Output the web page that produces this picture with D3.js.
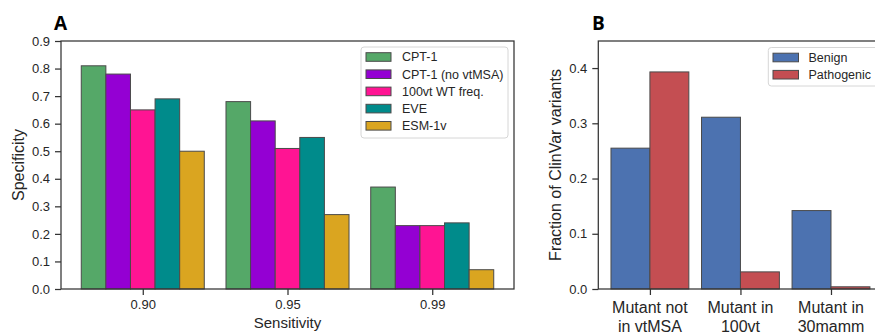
<!DOCTYPE html>
<html><head><meta charset="utf-8">
<script src="https://cdn.jsdelivr.net/npm/d3@7"></script>
<style>
body{margin:0;background:#fff;}
svg{display:block;font-family:"Liberation Sans",Arial,sans-serif;}
</style></head>
<body>
<svg id="c" width="875" height="333"></svg>
<script>
// ---- Panel A data ----
const sensitivities = ["0.90", "0.95", "0.99"];
const methods = ["CPT-1", "CPT-1 (no vtMSA)", "100vt WT freq.", "EVE", "ESM-1v"];
const methodColors = ["#55A868", "#9400D3", "#FF1493", "#008B8B", "#DAA520"];
const cpt1 = [0.81, 0.68, 0.37];
const cpt1NoMsa = [0.78, 0.61, 0.23];
const wtFreq100vt = [0.65, 0.51, 0.23];
const eve = [0.69, 0.55, 0.24];
const esm1v = [0.50, 0.27, 0.07];
const specTicks = [0, 0.1, 0.2, 0.3, 0.4, 0.5, 0.6, 0.7, 0.8, 0.9];

// ---- Panel B data ----
const variantGroups = [["Mutant not", "in vtMSA"], ["Mutant in", "100vt"], ["Mutant in", "30mamm"]];
const classes = ["Benign", "Pathogenic"];
const classColors = ["#4C72B0", "#C44E52"];
const benign = [0.255, 0.311, 0.142];
const pathogenic = [0.393, 0.031, 0.004];
const fracTicks = [0, 0.1, 0.2, 0.3, 0.4];

const svg = d3.select("#c");
const textCol = "#262626";
const spineCol = "#333333";

// ===== Panel A =====
const A = {l: 61, r: 514, t: 41, b: 289};
const seriesA = [cpt1, cpt1NoMsa, wtFreq100vt, eve, esm1v];
const xA = d3.scaleLinear().domain([-0.565, 2.565]).range([A.l, A.r]);
const yA = d3.scaleLinear().domain([0, 0.9]).range([A.b, A.t]);
const bwA = 0.17;
const gA = svg.append("g");
seriesA.forEach((vals, si) => {
  gA.selectAll(null).data(vals).enter().append("rect")
    .attr("x", (d, i) => xA(i - 2.5 * bwA + si * bwA))
    .attr("width", xA(bwA) - xA(0))
    .attr("y", d => yA(d))
    .attr("height", d => yA(0) - yA(d))
    .attr("fill", methodColors[si])
    .attr("stroke", "#4a4a4a").attr("stroke-width", 1);
});
// axes
const axA_y = svg.append("g").attr("transform", `translate(${A.l},0)`)
  .call(d3.axisLeft(yA).tickValues(specTicks).tickFormat(d3.format(".1f")).tickSize(6).tickPadding(5));
const axA_x = svg.append("g").attr("transform", `translate(0,${A.b})`)
  .call(d3.axisBottom(xA).tickValues([0, 1, 2]).tickFormat(i => sensitivities[i]).tickSize(6).tickPadding(5));
[axA_y, axA_x].forEach(a => {
  a.select(".domain").remove();
  a.selectAll("line").attr("stroke", spineCol).attr("stroke-width", 1.25);
  a.selectAll("text").attr("fill", textCol).style("font-size", "13px").style("font-family", '"Liberation Sans",Arial,sans-serif');
});
svg.append("rect").attr("x", A.l).attr("y", A.t).attr("width", A.r - A.l).attr("height", A.b - A.t)
  .attr("fill", "none").attr("stroke", spineCol).attr("stroke-width", 1.25);
svg.append("text").attr("x", (A.l + A.r) / 2).attr("y", 327.5).attr("text-anchor", "middle")
  .attr("fill", textCol).style("font-size", "15px").text("Sensitivity");
svg.append("text").attr("transform", `translate(23.5,${(A.t + A.b) / 2}) rotate(-90)`).attr("text-anchor", "middle")
  .attr("fill", textCol).style("font-size", "16px").text("Specificity");
svg.append("text").attr("x", 54).attr("y", 30).style("font-family", '"Open Sans",Arial,sans-serif')
  .style("font-weight", "bold").style("font-size", "19px").attr("fill", "#000").text("A");
// legend A
const legA = svg.append("g");
legA.append("rect").attr("x", 361).attr("y", 47).attr("width", 147).attr("height", 91).attr("rx", 3)
  .attr("fill", "#fff").attr("fill-opacity", 0.8).attr("stroke", "#d6d6d6");
methods.forEach((m, i) => {
  const cy = 57 + i * 17.2;
  legA.append("rect").attr("x", 366).attr("y", cy - 4.3).attr("width", 25).attr("height", 8.6)
    .attr("fill", methodColors[i]).attr("stroke", "#4a4a4a").attr("stroke-width", 1);
  legA.append("text").attr("x", 402).attr("y", cy + 4.3).attr("fill", textCol).style("font-size", "12.5px").text(m);
});

// ===== Panel B =====
const B = {l: 598.3, r: 882.6, t: 41, b: 289};
const seriesB = [benign, pathogenic];
const xB = d3.scaleLinear().domain([-0.57, 2.57]).range([B.l, B.r]);
const yB = d3.scaleLinear().domain([0, 0.449]).range([B.b, B.t]);
const bwB = 0.43;
seriesB.forEach((vals, si) => {
  svg.selectAll(null).data(vals).enter().append("rect")
    .attr("x", (d, i) => xB(i - bwB + si * bwB))
    .attr("width", xB(bwB) - xB(0))
    .attr("y", d => yB(d))
    .attr("height", d => yB(0) - yB(d))
    .attr("fill", classColors[si])
    .attr("stroke", "#4a4a4a").attr("stroke-width", 1);
});
const axB_y = svg.append("g").attr("transform", `translate(${B.l},0)`)
  .call(d3.axisLeft(yB).tickValues(fracTicks).tickFormat(d3.format(".1f")).tickSize(6).tickPadding(5));
const axB_x = svg.append("g").attr("transform", `translate(0,${B.b})`)
  .call(d3.axisBottom(xB).tickValues([0, 1, 2]).tickFormat("").tickSize(6));
[axB_y, axB_x].forEach(a => {
  a.select(".domain").remove();
  a.selectAll("line").attr("stroke", spineCol).attr("stroke-width", 1.25);
  a.selectAll("text").attr("fill", textCol).style("font-size", "13px").style("font-family", '"Liberation Sans",Arial,sans-serif');
});
variantGroups.forEach((lines, i) => {
  const t = svg.append("text").attr("text-anchor", "middle").attr("fill", textCol).style("font-size", "16px");
  lines.forEach((ln, j) => t.append("tspan").attr("x", xB(i)).attr("y", 313 + j * 18.5).text(ln));
});
svg.append("rect").attr("x", B.l).attr("y", B.t).attr("width", B.r - B.l).attr("height", B.b - B.t)
  .attr("fill", "none").attr("stroke", spineCol).attr("stroke-width", 1.25);
svg.append("text").attr("transform", `translate(560.5,${(B.t + B.b) / 2}) rotate(-90)`).attr("text-anchor", "middle")
  .attr("fill", textCol).style("font-size", "16px").text("Fraction of ClinVar variants");
svg.append("text").attr("x", 592).attr("y", 30).style("font-family", '"Open Sans",Arial,sans-serif')
  .style("font-weight", "bold").style("font-size", "19px").attr("fill", "#000").text("B");
// legend B
const legB = svg.append("g");
legB.append("rect").attr("x", 768.3).attr("y", 47.5).attr("width", 112).attr("height", 38.5).attr("rx", 3)
  .attr("fill", "#fff").attr("fill-opacity", 0.8).attr("stroke", "#d6d6d6");
classes.forEach((c, i) => {
  const cy = 57.5 + i * 17.2;
  legB.append("rect").attr("x", 773).attr("y", cy - 4.3).attr("width", 25.5).attr("height", 8.6)
    .attr("fill", classColors[i]).attr("stroke", "#4a4a4a").attr("stroke-width", 1);
  legB.append("text").attr("x", 808.5).attr("y", cy + 4.3).attr("fill", textCol).style("font-size", "12.5px").text(c);
});
</script>
</body></html>
